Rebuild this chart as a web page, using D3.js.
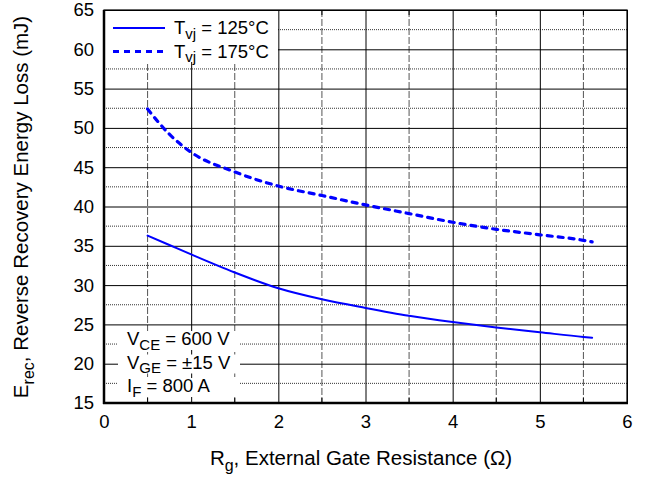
<!DOCTYPE html>
<html>
<head>
<meta charset="utf-8">
<script src="https://cdn.jsdelivr.net/npm/d3@7"></script>
<style>
  body { margin: 0; background: #fff; }
  text { font-family: "Liberation Sans", Arial, sans-serif; fill: #000; }
</style>
</head>
<body>
<svg id="chart" width="646" height="478"></svg>
<script>
// gate resistance (ohm)
var rg = [0.5, 0.75, 1, 1.5, 2, 2.5, 3, 3.5, 4, 4.5, 5, 5.5, 5.6];
// Erec (mJ)
var erec125 = [36.3, 35.1, 33.9, 31.6, 29.6, 28.2, 27.1, 26.1, 25.3, 24.6, 24.0, 23.4, 23.3];
var erec175 = [52.4, 49.2, 46.9, 44.4, 42.6, 41.4, 40.2, 39.1, 38.0, 37.1, 36.4, 35.7, 35.5];

var xTicks = [0, 1, 2, 3, 4, 5, 6];
var yTicks = [15, 20, 25, 30, 35, 40, 45, 50, 55, 60, 65];

var series = [
  { name: '125°C', values: erec125, dash: null, width: 2 },
  { name: '175°C', values: erec175, dash: '5,6', width: 3.2 }
];

var conditions = [
  { main: 'V', sub: 'CE', rest: ' = 600 V' },
  { main: 'V', sub: 'GE', rest: ' = \u00b115 V' },
  { main: 'I', sub: 'F', rest: ' = 800 A' }
];

var svg = d3.select('#chart');
var margin = { left: 104, right: 19, top: 10, bottom: 75 };
var width = 646 - margin.left - margin.right;
var height = 478 - margin.top - margin.bottom;

var chart = svg.append('g')
  .attr('transform', `translate(${margin.left}, ${margin.top})`);

var x = d3.scaleLinear().domain([0, 6]).range([0, width]);
var y = d3.scaleLinear().domain([15, 65]).range([height, 0]);

// helper: text with a subscript part
function subText(sel, main, sub, rest, size, subSize) {
  sel.attr('font-size', size);
  sel.append('tspan').text(main);
  sel.append('tspan').attr('dy', size * 0.27).attr('font-size', subSize).text(sub);
  sel.append('tspan').attr('dy', -size * 0.27).text(rest);
  return sel;
}

// minor grid
chart.append('g')
  .selectAll('line')
  .data(d3.range(0.5, 6, 1))
  .enter().append('line')
  .attr('x1', (d) => x(d)).attr('x2', (d) => x(d))
  .attr('y1', 0).attr('y2', height)
  .attr('stroke', '#555').attr('stroke-dasharray', '7,2');

chart.append('g')
  .selectAll('line')
  .data(d3.range(17.5, 65, 5))
  .enter().append('line')
  .attr('x1', 0).attr('x2', width)
  .attr('y1', (d) => y(d)).attr('y2', (d) => y(d))
  .attr('stroke', '#333').attr('stroke-dasharray', '1,1');

// major grid
chart.append('g')
  .attr('transform', `translate(0, ${height})`)
  .call(d3.axisBottom(x).tickValues(xTicks).tickSize(-height).tickFormat(''))
  .call((g) => g.select('.domain').remove())
  .selectAll('line').attr('stroke', '#000');

chart.append('g')
  .call(d3.axisLeft(y).tickValues(yTicks).tickSize(-width).tickFormat(''))
  .call((g) => g.select('.domain').remove())
  .selectAll('line').attr('stroke', '#000');

// inward minor ticks
[0, height].forEach(function (yy) {
  chart.append('g')
    .selectAll('line')
    .data(d3.range(0.5, 6, 1))
    .enter().append('line')
    .attr('x1', (d) => x(d)).attr('x2', (d) => x(d))
    .attr('y1', yy).attr('y2', yy === 0 ? 5 : height - 5)
    .attr('stroke', '#000');
});

// legend background
var legend = chart.append('g');
legend.append('rect')
  .attr('x', 1).attr('y', 1)
  .attr('width', 173).attr('height', 51)
  .attr('fill', '#fff');

// condition labels background
conditions.forEach(function (c, i) {
  chart.append('rect')
    .attr('x', 14).attr('y', height - 72 + i * 23.5)
    .attr('width', 122).attr('height', 19)
    .attr('fill', '#fff');
});

// curves
var line = d3.line()
  .x((d, i) => x(rg[i]))
  .y((d) => y(d))
  .curve(d3.curveMonotoneX);

series.forEach(function (s) {
  chart.append('path')
    .datum(s.values)
    .attr('d', line)
    .attr('fill', 'none')
    .attr('stroke', '#0000ff')
    .attr('stroke-width', s.width)
    .attr('stroke-linecap', 'round')
    .attr('stroke-dasharray', s.dash);
});

// frame
chart.append('rect')
  .attr('width', width).attr('height', height)
  .attr('fill', 'none').attr('stroke', '#000').attr('stroke-width', 1.2);

chart.append('line')
  .attr('x1', 0).attr('x2', 0).attr('y1', 0).attr('y2', height + 1)
  .attr('stroke', '#000').attr('stroke-width', 2.5);
chart.append('line')
  .attr('x1', -1).attr('x2', width + 1).attr('y1', height).attr('y2', height)
  .attr('stroke', '#000').attr('stroke-width', 2.5);

// axes labels
var xAxis = chart.append('g')
  .attr('transform', `translate(0, ${height})`)
  .call(d3.axisBottom(x).tickValues(xTicks).tickFormat(d3.format('d')).tickSize(0).tickPadding(12));
xAxis.select('.domain').remove();
xAxis.selectAll('text').attr('font-size', 18.5).attr('font-family', '"Liberation Sans", Arial, sans-serif');

var yAxis = chart.append('g')
  .call(d3.axisLeft(y).tickValues(yTicks).tickFormat(d3.format('d')).tickSize(0).tickPadding(10));
yAxis.select('.domain').remove();
yAxis.selectAll('text').attr('font-size', 18.5).attr('font-family', '"Liberation Sans", Arial, sans-serif');

// legend entries
series.forEach(function (s, i) {
  var ly = 18 + i * 23.5;
  legend.append('line')
    .attr('x1', 9).attr('x2', 61)
    .attr('y1', ly).attr('y2', ly)
    .attr('stroke', '#0000ff')
    .attr('stroke-width', s.width === 2 ? 2 : 2.8)
    .attr('stroke-dasharray', s.dash ? '6,5' : null);
  subText(legend.append('text').attr('x', 70).attr('y', ly + 6),
    'T', 'vj', ' = ' + s.name, 18.5, 15);
});

// condition text
conditions.forEach(function (c, i) {
  subText(chart.append('text').attr('x', 23).attr('y', height - 58 + i * 23.5),
    c.main, c.sub, c.rest, 18.5, 15);
});

// axis titles
subText(svg.append('text')
  .attr('x', 361)
  .attr('y', 465)
  .attr('text-anchor', 'middle'),
  'R', 'g', ', External Gate Resistance (\u03a9)', 20.5, 16);

subText(svg.append('text')
  .attr('transform', 'translate(28, 207) rotate(-90)')
  .attr('text-anchor', 'middle'),
  'E', 'rec', ',  Reverse Recovery Energy Loss (mJ)', 20.5, 16);
</script>
</body>
</html>
